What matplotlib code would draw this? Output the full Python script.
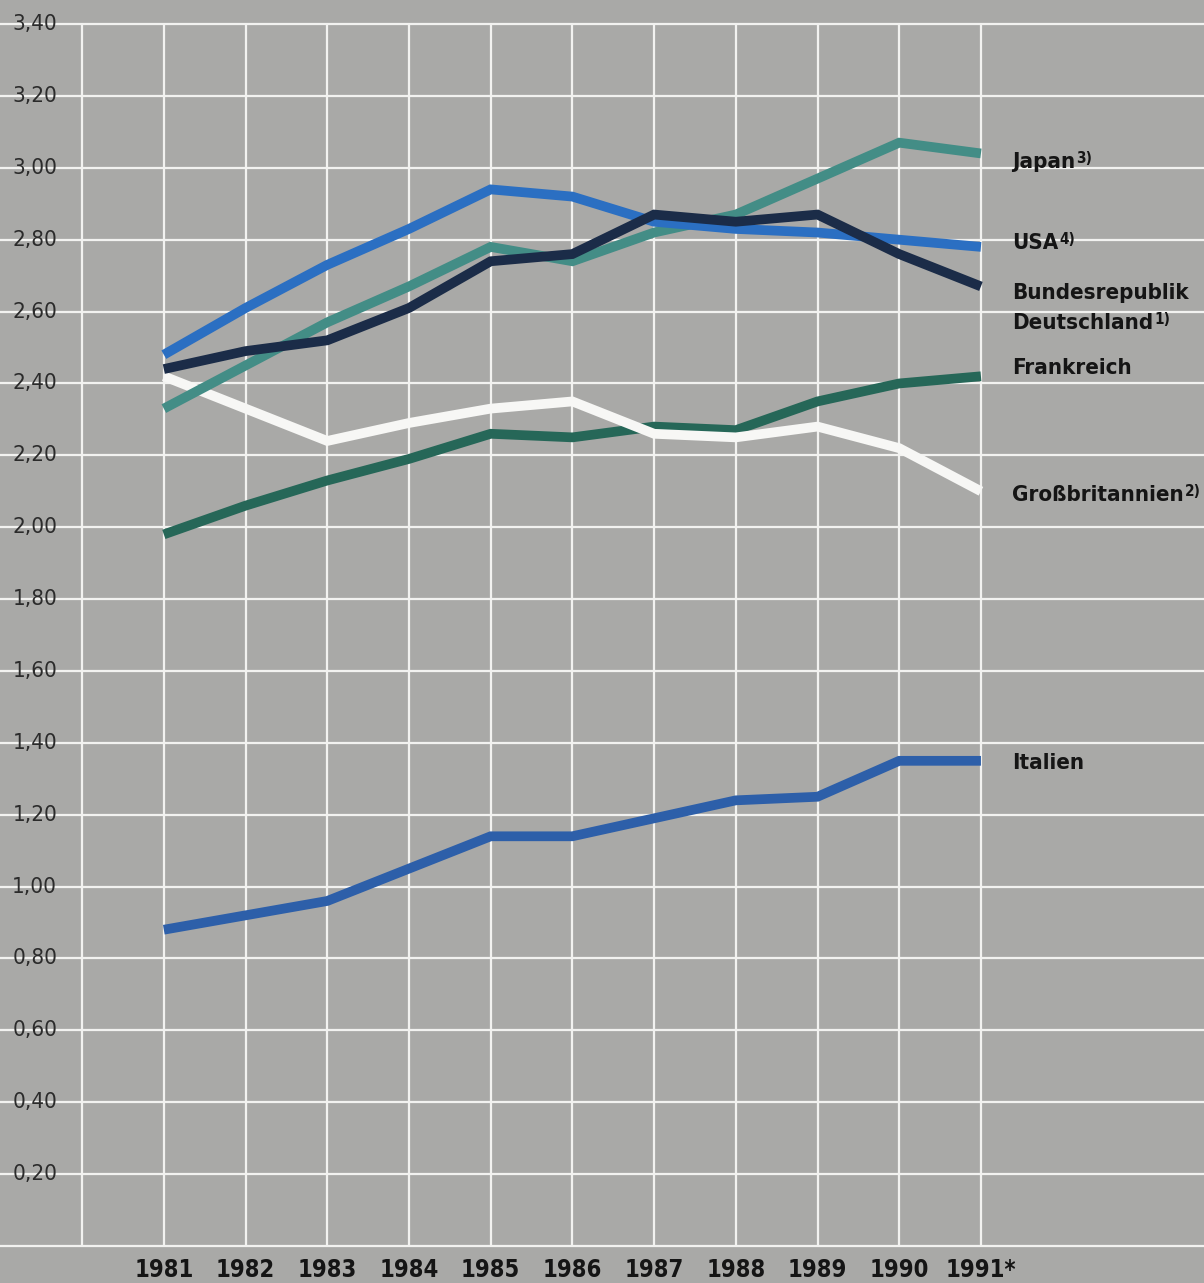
import matplotlib.pyplot as plt
import matplotlib.transforms as mtransforms

# Werte je Jahr (1981-1991)
years = [1981, 1982, 1983, 1984, 1985, 1986, 1987, 1988, 1989, 1990, 1991]
year_labels = ['1981', '1982', '1983', '1984', '1985', '1986',
               '1987', '1988', '1989', '1990', '1991*']

japan = [2.33, 2.45, 2.57, 2.67, 2.78, 2.74, 2.82, 2.87, 2.97, 3.07, 3.04]
usa = [2.48, 2.61, 2.73, 2.83, 2.94, 2.92, 2.85, 2.83, 2.82, 2.80, 2.78]
brd = [2.44, 2.49, 2.52, 2.61, 2.74, 2.76, 2.87, 2.85, 2.87, 2.76, 2.67]
frankreich = [1.98, 2.06, 2.13, 2.19, 2.26, 2.25, 2.28, 2.27, 2.35, 2.40, 2.42]
gb = [2.42, 2.33, 2.24, 2.29, 2.33, 2.35, 2.26, 2.25, 2.28, 2.22, 2.10]
italien = [0.88, 0.92, 0.96, 1.05, 1.14, 1.14, 1.19, 1.24, 1.25, 1.35, 1.35]

y_ticks = [0.2, 0.4, 0.6, 0.8, 1.0, 1.2, 1.4, 1.6, 1.8, 2.0,
           2.2, 2.4, 2.6, 2.8, 3.0, 3.2, 3.4]

FONT = dict(family='DejaVu Sans', stretch='condensed')
BG = '#a9a9a7'
GRID = '#f2f2f0'
INK = '#151515'

fig = plt.figure(figsize=(12.04, 12.83), dpi=100)
fig.patch.set_facecolor(BG)
ax = fig.add_axes([0, 0, 1, 1])
ax.set_axis_off()
ax.set_xlim(1978.995, 1993.73)
ax.set_ylim(-0.103, 3.467)

# Gitter
ax.hlines([0.0] + y_ticks, 1978.995, 1993.73, color=GRID, lw=1.6, zorder=1)
ax.vlines(range(1980, 1992), 0.0, 3.4, color=GRID, lw=1.6, zorder=1)

series = [
    (frankreich, '#266758'),
    (gb, '#f7f7f5'),
    (japan, '#438d86'),
    (usa, '#2b6fc2'),
    (brd, '#1b2c48'),
    (italien, '#2d5fa9'),
]
for i, (vals, col) in enumerate(series):
    ax.plot(years, vals, color=col, lw=7, solid_capstyle='butt',
            solid_joinstyle='miter', zorder=3 + i)

# y-Achse: Beschriftung mit Dezimalkomma
ytrans = mtransforms.blended_transform_factory(ax.transAxes, ax.transData)
for v in y_ticks:
    ax.text(0.0475, v, f'{v:.2f}'.replace('.', ','), transform=ytrans,
            ha='right', va='center', fontsize=16, color='#2b2b2b',
            zorder=10, **FONT)

# x-Achse: Jahre
xtrans = mtransforms.blended_transform_factory(ax.transData, ax.transAxes)
for yr, lab in zip(years, year_labels):
    ax.text(yr, 0.0105, lab, transform=xtrans, ha='center', va='center',
            fontsize=17, fontweight='bold', color=INK, **FONT)


def label(x, y, txt, sup=None):
    t = ax.text(x, y, txt, ha='left', va='center', fontsize=16,
                fontweight='bold', color=INK, zorder=10, **FONT)
    if sup:
        ax.annotate(sup, xy=(1, 1), xycoords=t, xytext=(1, 1),
                    textcoords='offset points', ha='left', va='top',
                    fontsize=11, fontweight='bold', color=INK,
                    zorder=10, **FONT)


lx = 1991.38
label(lx, 3.015, 'Japan', '3)')
label(lx, 2.79, 'USA', '4)')
label(lx, 2.651, 'Bundesrepublik')
label(lx, 2.568, 'Deutschland', '1)')
label(lx, 2.442, 'Frankreich')
label(lx, 2.089, 'Großbritannien', '2)')
label(lx, 1.343, 'Italien')

fig.savefig('out.png', dpi=100, facecolor=BG)
